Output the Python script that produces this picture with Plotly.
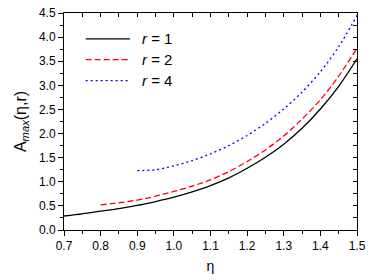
import plotly.graph_objects as go

eta1 = [0.70, 0.75, 0.80, 0.85, 0.90, 0.95, 1.00, 1.05, 1.10, 1.15, 1.20, 1.25, 1.30, 1.35, 1.40, 1.45, 1.50]
a_r1 = [0.29, 0.335, 0.39, 0.445, 0.51, 0.59, 0.68, 0.79, 0.92, 1.08, 1.28, 1.51, 1.78, 2.11, 2.51, 2.98, 3.55]

eta2 = [0.80, 0.85, 0.90, 0.95, 1.00, 1.05, 1.10, 1.15, 1.20, 1.25, 1.30, 1.35, 1.40, 1.45, 1.50]
a_r2 = [0.52, 0.565, 0.62, 0.70, 0.80, 0.91, 1.04, 1.21, 1.42, 1.66, 1.95, 2.30, 2.70, 3.19, 3.77]

eta4 = [0.90, 0.95, 1.00, 1.05, 1.10, 1.15, 1.20, 1.25, 1.30, 1.35, 1.40, 1.45, 1.50]
a_r4 = [1.23, 1.25, 1.33, 1.44, 1.58, 1.75, 1.96, 2.21, 2.51, 2.86, 3.28, 3.80, 4.45]

legend_labels = ["<i>r</i> = 1", "<i>r</i> = 2", "<i>r</i> = 4"]
colors = ["#000000", "#ff0000", "#0000ff"]
dashes = ["solid", "6px,3px", "2px,3px"]

x_ticks = [0.7, 0.8, 0.9, 1.0, 1.1, 1.2, 1.3, 1.4, 1.5]
y_ticks = [0.0, 0.5, 1.0, 1.5, 2.0, 2.5, 3.0, 3.5, 4.0, 4.5]

fig = go.Figure()
for xs, ys, c, d in zip([eta1, eta2, eta4], [a_r1, a_r2, a_r4], colors, dashes):
    fig.add_trace(go.Scatter(x=xs, y=ys, mode="lines", line=dict(color=c, dash=d, width=1.3, shape="spline", smoothing=0.8),
                             showlegend=False, hoverinfo="skip"))
# carrier for mirrored axes
fig.add_trace(go.Scatter(x=[None], y=[None], xaxis="x2", yaxis="y2", showlegend=False, hoverinfo="skip"))

font = dict(family="Liberation Sans, Arial, sans-serif", size=12, color="#000")

fig.update_layout(
    width=374, height=280,
    margin=dict(l=64, r=17, t=13, b=50),
    paper_bgcolor="white", plot_bgcolor="white",
    font=font,
    xaxis=dict(range=[0.7, 1.5], tickvals=x_ticks, ticktext=[f"{v:.1f}" for v in x_ticks],
               ticks="outside", ticklen=5, tickwidth=1, tickcolor="#000", automargin=False,
               ticklabeloverflow="allow",
               minor=dict(dtick=0.05, tick0=0.7, ticks="outside", ticklen=3, tickcolor="#000"),
               showline=True, linecolor="#000", linewidth=1, showgrid=False, zeroline=False,
               title=dict(text="η", font=dict(size=14), standoff=8)),
    yaxis=dict(range=[0, 4.5], tickvals=y_ticks, ticktext=[f"{v:.1f}" for v in y_ticks],
               ticks="outside", ticklen=5, tickwidth=1, tickcolor="#000", automargin=False,
               ticklabeloverflow="allow",
               minor=dict(dtick=0.25, tick0=0, ticks="outside", ticklen=3, tickcolor="#000"),
               showline=True, linecolor="#000", linewidth=1, showgrid=False, zeroline=False,
               title=dict(text="A<sub><i>max</i></sub>(η,r)", font=dict(size=16), standoff=8)),
    xaxis2=dict(range=[0.7, 1.5], overlaying="x", side="top", tickvals=x_ticks, showticklabels=False,
                ticks="inside", ticklen=4, tickcolor="#000", automargin=False,
                minor=dict(dtick=0.05, tick0=0.7, ticks="inside", ticklen=4, tickcolor="#000"),
                showline=True, linecolor="#000", linewidth=1, showgrid=False, zeroline=False),
    yaxis2=dict(range=[0, 4.5], overlaying="y", side="right", tickvals=y_ticks, showticklabels=False,
                ticks="inside", ticklen=4, tickcolor="#000", automargin=False,
                minor=dict(dtick=0.25, tick0=0, ticks="inside", ticklen=4, tickcolor="#000"),
                showline=True, linecolor="#000", linewidth=1, showgrid=False, zeroline=False),
)

# manual legend (paper coordinates)
leg_y = [0.881, 0.785, 0.688]
for lab, c, d, yy in zip(legend_labels, colors, dashes, leg_y):
    fig.add_shape(type="line", xref="paper", yref="paper", x0=0.074, x1=0.225, y0=yy, y1=yy,
                  line=dict(color=c, dash=d, width=1.3))
    fig.add_annotation(xref="paper", yref="paper", x=0.258, y=yy, text=lab, showarrow=False,
                       xanchor="left", yanchor="middle", font=dict(size=15, color="#000"))

fig.write_html("out.html", config={"displayModeBar": False},
               post_script="document.body.style.margin='0px';document.body.style.overflow='hidden';")
